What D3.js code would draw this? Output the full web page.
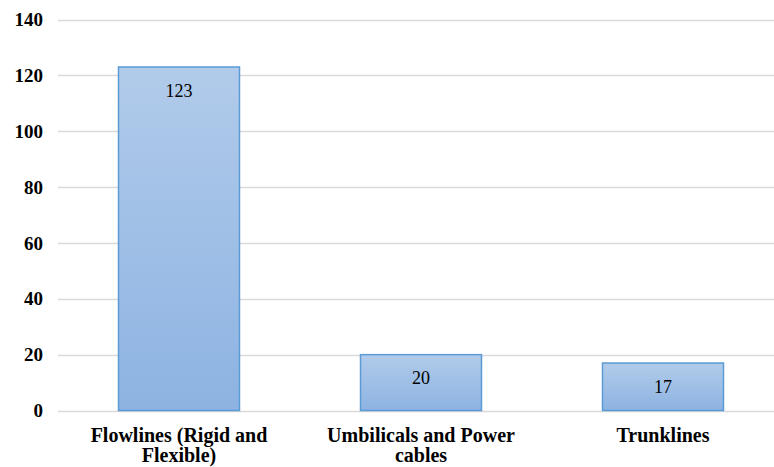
<html>
  <head>
    <style>
      body { margin: 0; background: #fff; }
      svg text { font-family: "Times New Roman", "Liberation Serif", "DejaVu Serif", serif; }
    </style>
  </head>
  <body>
    <script src="https://d3js.org/d3.v7.min.js"></script>
    <script>
      var categories = [["Flowlines (Rigid and", "Flexible)"], ["Umbilicals and Power", "cables"], ["Trunklines"]];
      var values = [123, 20, 17];
      var yTicks = [0, 20, 40, 60, 80, 100, 120, 140];

      var w = 774, h = 467;
      var plotLeft = 58, plotRight = 784, plotTop = 19.5, plotBottom = 410.5;
      var serif = "'Times New Roman', 'Liberation Serif', 'DejaVu Serif', serif";

      var svg = d3.select("body").append("svg")
        .attr("width", w)
        .attr("height", h);

      var grad = svg.append("defs").append("linearGradient")
        .attr("id", "barfill")
        .attr("x1", 0).attr("y1", 0).attr("x2", 0).attr("y2", 1);
      grad.append("stop").attr("offset", "0%").attr("stop-color", "#b1cbea");
      grad.append("stop").attr("offset", "100%").attr("stop-color", "#8db3e2");

      var x = d3.scaleBand()
        .domain(d3.range(values.length))
        .range([plotLeft, plotRight])
        .paddingInner(0.5)
        .paddingOuter(0.25);

      var y = d3.scaleLinear()
        .domain([0, 140])
        .range([plotBottom, plotTop]);

      // gridlines
      svg.selectAll("line.grid")
        .data(yTicks)
        .enter().append("line")
        .attr("x1", plotLeft).attr("x2", w)
        .attr("y1", function(d) { return Math.round(y(d)) + 0.5; })
        .attr("y2", function(d) { return Math.round(y(d)) + 0.5; })
        .attr("stroke", "#d9d9d9")
        .attr("stroke-width", 1.5);

      // y tick labels
      svg.selectAll("text.ytick")
        .data(yTicks)
        .enter().append("text")
        .attr("x", 43)
        .attr("y", function(d) { return y(d); })
        .attr("dy", "0.35em")
        .attr("text-anchor", "end")
        .attr("font-family", serif)
        .attr("font-size", "19px")
        .attr("font-weight", "bold")
        .text(function(d) { return d; });

      svg.selectAll("rect.bar")
        .data(values)
        .enter().append("rect")
        .attr("x", function(d, i) { return x(i); })
        .attr("y", function(d) { return y(d); })
        .attr("width", x.bandwidth())
        .attr("height", function(d) { return y(0) - y(d); })
        .attr("fill", "url(#barfill)")
        .attr("stroke", "#5b9bd5")
        .attr("stroke-width", 1.5);

      // data labels
      svg.selectAll("text.val")
        .data(values)
        .enter().append("text")
        .attr("x", function(d, i) { return x(i) + x.bandwidth() / 2; })
        .attr("y", function(d) { return y(d) + 23.5; })
        .attr("dy", "0.35em")
        .attr("text-anchor", "middle")
        .attr("font-family", serif)
        .attr("font-size", "18px")
        .text(function(d) { return d; });

      // category labels
      var cat = svg.selectAll("text.cat")
        .data(categories)
        .enter().append("text")
        .attr("x", function(d, i) { return x(i) + x.bandwidth() / 2; })
        .attr("y", 441.5)
        .attr("text-anchor", "middle")
        .attr("font-family", serif)
        .attr("font-size", "20px")
        .attr("font-weight", "bold");
      cat.selectAll("tspan")
        .data(function(d) { return d; })
        .enter().append("tspan")
        .attr("x", function() { return d3.select(this.parentNode).attr("x"); })
        .attr("dy", function(d, i) { return i ? 20 : 0; })
        .text(function(d) { return d; });
    </script>
  </body>
</html>
